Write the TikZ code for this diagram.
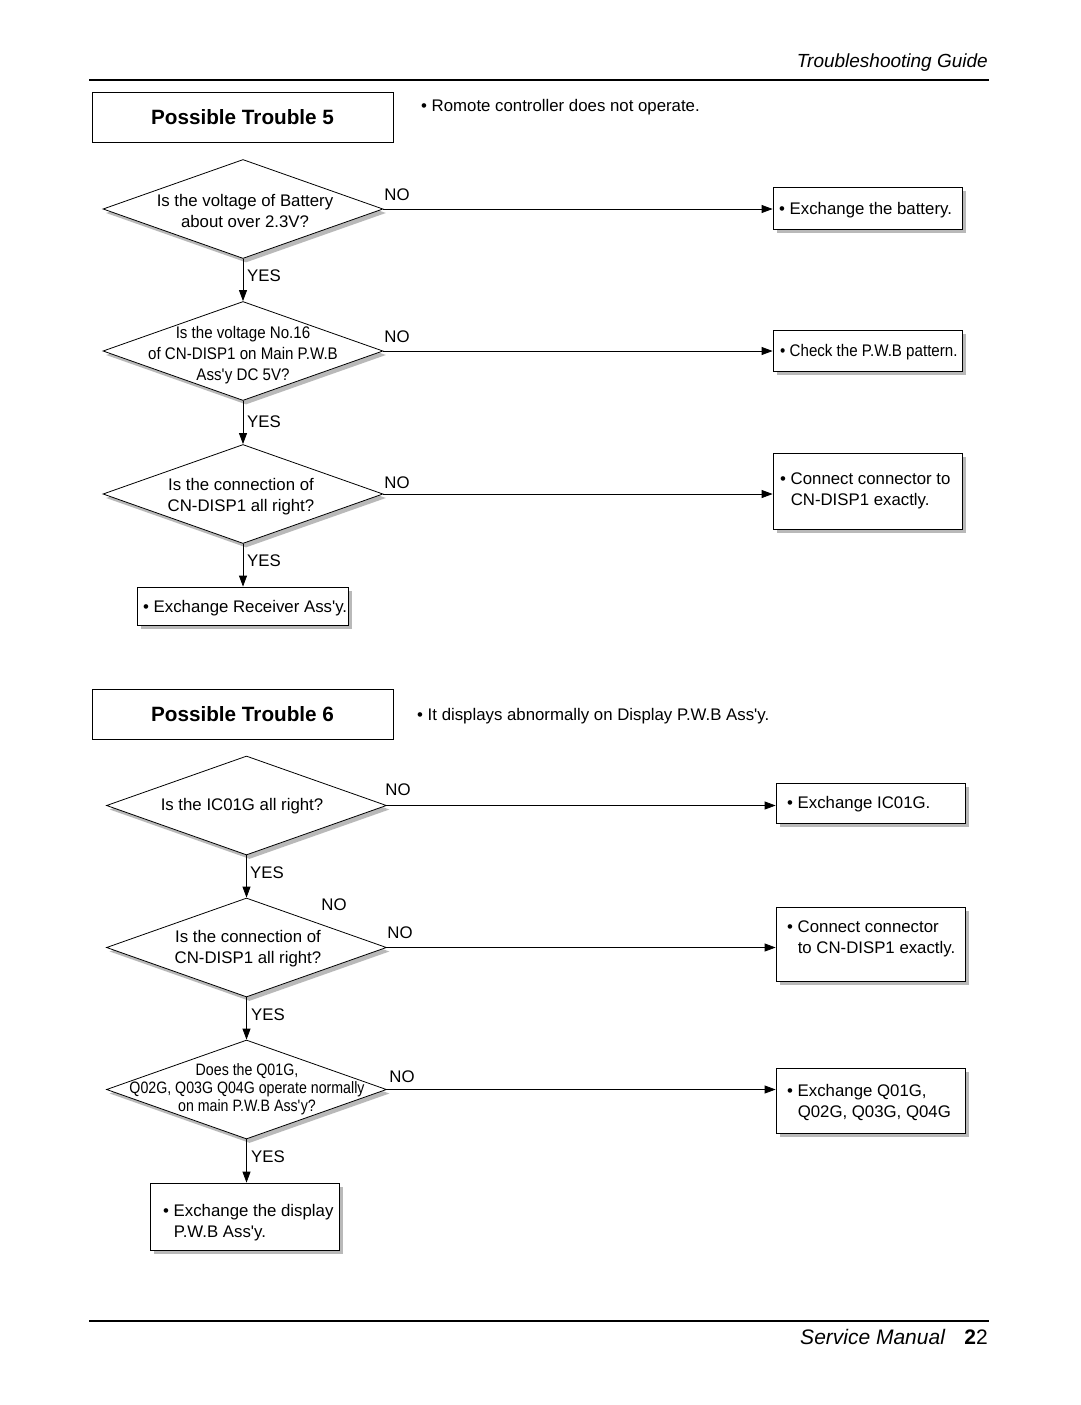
\documentclass[tikz,border=0pt]{standalone}
\usepackage{fontspec}
\setmainfont{Liberation Sans}
\newfontfamily\narrowfont[FakeStretch=0.9]{Liberation Sans}
\newfontfamily\narrowerfont[FakeStretch=0.86]{Liberation Sans}
\usetikzlibrary{shapes.geometric,arrows.meta,shadows,calc}
\newcommand\apo{\textquotesingle}
\begin{document}
\begin{tikzpicture}[x=1pt,y=-1pt,
  base/.style={font=\fontsize{16.8}{21}\selectfont},
  dia/.style={diamond, draw, fill=white, line width=0.8pt, minimum width=280pt, minimum height=99pt, inner sep=0pt,
    drop shadow={shadow xshift=3pt, shadow yshift=-4pt, fill=gray!55, opacity=1}},
  box/.style={draw, fill=white, line width=0.8pt, inner sep=0pt,
    drop shadow={shadow xshift=4pt, shadow yshift=-4pt, fill=gray!55, opacity=1}},
  tbox/.style={draw, line width=0.8pt, minimum width=301pt, minimum height=50pt, inner sep=0pt,
    font=\fontsize{20.7}{24}\selectfont\bfseries},
  txt/.style={base, inner sep=0pt, anchor=base west, align=left},
  ntxt/.style={txt, font=\narrowfont\fontsize{16.8}{21}\selectfont},
  dtxt/.style={base, inner sep=0pt, align=center},
  lbl/.style={base, inner sep=0pt},
  arr/.style={line width=0.8pt, -{Triangle[length=11pt,width=8pt]}}
]
\useasboundingbox (0,0) rectangle (1080,1405);
\fill[white] (0,0) rectangle (1080,1405);

% header / footer
\draw[line width=2.5pt] (89,80) -- (989,80);
\node[anchor=base east, inner sep=0pt, font=\fontsize{19}{22}\selectfont\itshape] (hdr) at (988,67) {Troubleshooting Guide};
\draw[line width=1.8pt] (89,1321) -- (989,1321);
\node[anchor=base east, inner sep=0pt, font=\fontsize{21}{24}\selectfont] (ftr) at (988,1344) {\textit{Service Manual}\hspace{19pt}\textbf{2}2};

% ---------------- Trouble 5
\node[tbox] (t5) at (242.5,117) {Possible Trouble 5};
\node[txt] (s5) at (421,111) {\textbullet{} Romote controller does not operate.};

\node[dia] (d1) at (243,209) {};
\node[dtxt] (d1t) at (245,210.5) {Is the voltage of Battery\\about over 2.3V?};
\node[dia] (d2) at (243,351) {};
\node[dtxt, font=\narrowfont\fontsize{16.8}{21}\selectfont] (d2t) at (243,355) {Is the voltage No.16\\of CN-DISP1 on Main P.W.B\\Ass\apo y DC 5V?};
\node[dia] (d3) at (243,494) {};
\node[dtxt] (d3t) at (241,497) {Is the connection of\\CN-DISP1 all right?};

\node[box, minimum width=189pt, minimum height=42pt] (b1) at (867.5,208) {};
\node[txt] (b1t) at (779,214) {\textbullet{} Exchange the battery.};
\node[box, minimum width=189pt, minimum height=41pt] (b2) at (867.5,350.5) {};
\node[ntxt] (b2t) at (780,356) {\textbullet{} Check the P.W.B pattern.};
\node[box, minimum width=189pt, minimum height=76pt] (b3) at (867.5,491) {};
\node[txt] (b3t) at (780,505) {\textbullet{} Connect connector to\\\hphantom{\textbullet{} }CN-DISP1 exactly.};
\node[box, minimum width=211pt, minimum height=38pt] (b4) at (242.5,606) {};
\node[txt] (b4t) at (143,612) {\textbullet{} Exchange Receiver Ass\apo y.};

\draw[arr] (d1.east) -- (d1.east -| b1.west);
\draw[arr] (d2.east) -- (d2.east -| b2.west);
\draw[arr] (d3.east) -- (d3.east -| b3.west);
\draw[arr] (d1.south) -- (d2.north);
\draw[arr] (d2.south) -- (d3.north);
\draw[arr] (d3.south) -- (d3.south |- b4.north);

\node[lbl] (n1) at (397,195) {NO};
\node[lbl] (n2) at (397,337) {NO};
\node[lbl] (n3) at (397,483) {NO};
\node[lbl] (y1) at (264,276) {YES};
\node[lbl] (y2) at (264,422) {YES};
\node[lbl] (y3) at (264,561) {YES};

% ---------------- Trouble 6
\node[tbox] (t6) at (242.5,714) {Possible Trouble 6};
\node[txt] (s6) at (417,720) {\textbullet{} It displays abnormally on Display P.W.B Ass\apo y.};

\node[dia] (d4) at (246.5,805.5) {};
\node[dtxt] (d4t) at (242,806) {Is the IC01G all right?};
\node[dia] (d5) at (246.5,947.5) {};
\node[dtxt] (d5t) at (248,949) {Is the connection of\\CN-DISP1 all right?};
\node[dia] (d6) at (246.5,1089.5) {};
\node[dtxt, font=\narrowerfont\fontsize{16.5}{18}\selectfont] (d6t) at (247,1089) {Does the Q01G,\\Q02G, Q03G Q04G operate normally\\on main P.W.B Ass\apo y?};

\node[box, minimum width=189pt, minimum height=40pt] (b5) at (870.5,803) {};
\node[txt] (b5t) at (787,808) {\textbullet{} Exchange IC01G.};
\node[box, minimum width=189pt, minimum height=74pt] (b6) at (870.5,944) {};
\node[txt] (b6t) at (787,953) {\textbullet{} Connect connector\\\hphantom{\textbullet{} }to CN-DISP1 exactly.};
\node[box, minimum width=189pt, minimum height=65pt] (b7) at (870.5,1100.5) {};
\node[txt] (b7t) at (787,1117) {\textbullet{} Exchange Q01G,\\\hphantom{\textbullet{} }Q02G, Q03G, Q04G};
\node[box, minimum width=189pt, minimum height=67pt] (b8) at (244.5,1216.5) {};
\node[txt] (b8t) at (163,1237) {\textbullet{} Exchange the display\\\hphantom{\textbullet{} }P.W.B Ass\apo y.};

\draw[arr] (d4.east) -- (d4.east -| b5.west);
\draw[arr] (d5.east) -- (d5.east -| b6.west);
\draw[arr] (d6.east) -- (d6.east -| b7.west);
\draw[arr] (d4.south) -- (d5.north);
\draw[arr] (d5.south) -- (d6.north);
\draw[arr] (d6.south) -- (d6.south |- b8.north);

\node[lbl] (n4) at (398,790) {NO};
\node[lbl] (n5x) at (334,905) {NO};
\node[lbl] (n5) at (400,933) {NO};
\node[lbl] (n6) at (402,1077) {NO};
\node[lbl] (y4) at (267,873) {YES};
\node[lbl] (y5) at (268,1015) {YES};
\node[lbl] (y6) at (268,1157) {YES};
\end{tikzpicture}
\end{document}
